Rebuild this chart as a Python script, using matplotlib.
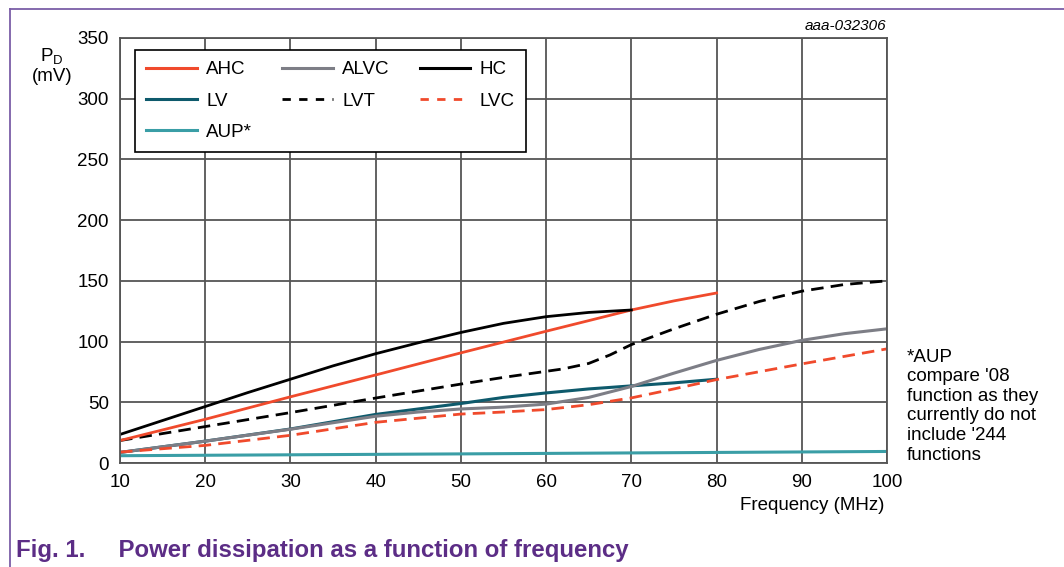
import numpy as np
from matplotlib import pyplot as plt
from matplotlib.lines import Line2D

# values (frequency in MHz, PD in mV)
hc_f = [10, 15, 20, 25, 30, 35, 40, 45, 50, 55, 60, 65, 70]
hc_p = [23.5, 35, 46.5, 58, 69, 80, 90, 99, 107.5, 115, 120.5, 124, 126]

ahc_f = [10, 20, 30, 40, 50, 60, 70, 75, 80]
ahc_p = [18.5, 36, 54.5, 72.5, 90.7, 108.5, 126, 133.5, 140]

lvt_f = [10, 20, 30, 40, 50, 55, 60, 62, 65, 67.5, 70, 75, 80, 85, 90, 95, 100]
lvt_p = [18.5, 30, 41.5, 53.5, 65, 70.5, 75.5, 77.5, 82, 89, 97.5, 110.5, 122.5, 133, 141.5, 147, 150]

alvc_f = [10, 20, 30, 40, 45, 50, 55, 60, 65, 70, 75, 80, 85, 90, 95, 100]
alvc_p = [8.7, 18, 27.8, 38.5, 42, 44.5, 46, 48.5, 54, 63, 74, 84.5, 93.5, 101, 106.5, 110.5]

lv_f = [10, 20, 30, 40, 50, 55, 60, 65, 70, 75, 80]
lv_p = [8.7, 18, 28, 40, 49, 54, 57.7, 61, 63.5, 66, 69]

lvc_f = [10, 20, 30, 40, 50, 55, 60, 65, 70, 75, 80, 90, 100]
lvc_p = [9, 14.5, 22.8, 33.5, 40.3, 42, 44, 48, 53.6, 61, 68.7, 81.6, 94]

aup_f = [10, 50, 100]
aup_p = [6, 7.5, 9.5]

x_ticks = [10, 20, 30, 40, 50, 60, 70, 80, 90, 100]
y_ticks = [0, 50, 100, 150, 200, 250, 300, 350]

red = '#f04a2c'
grey = '#7d7e86'
dteal = '#0e5a6c'
teal = '#3a9ea6'
purple = '#5c2d86'

plt.rcParams['font.family'] = ['Liberation Sans', 'DejaVu Sans']

fig = plt.figure(figsize=(10.64, 5.67), dpi=100)
ax = fig.add_axes([120 / 1064, 1 - 463 / 567, 767 / 1064, 425 / 567])

ax.plot(aup_f, aup_p, color=teal, lw=2.2)
ax.plot(lv_f, lv_p, color=dteal, lw=2.2)
ax.plot(alvc_f, alvc_p, color=grey, lw=2.2)
ax.plot(lvc_f, lvc_p, color=red, lw=2, dashes=(4.5, 2.6))
ax.plot(lvt_f, lvt_p, color='black', lw=2, dashes=(4.5, 2.6))
ax.plot(ahc_f, ahc_p, color=red, lw=2)
ax.plot(hc_f, hc_p, color='black', lw=2)

ax.set_xlim(10, 100)
ax.set_ylim(0, 350)
ax.set_xticks(x_ticks)
ax.set_yticks(y_ticks)
ax.tick_params(length=0, labelsize=13.5)
ax.tick_params(axis='x', pad=8)
ax.tick_params(axis='y', pad=8)
ax.grid(True, color='#555555', lw=1.3)
for s in ax.spines.values():
    s.set_color('#555555')
    s.set_linewidth(1.3)

handles = [
    Line2D([], [], color=red, lw=2.2),
    Line2D([], [], color=dteal, lw=2.2),
    Line2D([], [], color=teal, lw=2.2),
    Line2D([], [], color=grey, lw=2.2),
    Line2D([], [], color='black', lw=2, dashes=(3, 3)),
    Line2D([], [], color='black', lw=2.2),
    Line2D([], [], color=red, lw=2, dashes=(3, 3)),
]
labels = ['AHC', 'LV', 'AUP*', 'ALVC', 'LVT', 'HC', 'LVC']
leg = ax.legend(handles, labels, ncol=3, loc='upper left',
                bbox_to_anchor=(15 / 767, 1 - 12 / 425), borderaxespad=0,
                fontsize=13.5, frameon=True, fancybox=False, framealpha=1,
                edgecolor='black', handlelength=2.7, handletextpad=0.5,
                columnspacing=1.6, labelspacing=0.75, borderpad=0.6)
leg.get_frame().set_linewidth(1.2)

fig.text(52 / 1064, 1 - 66 / 567, 'P$_\\mathregular{D}$\n(mV)', ha='center',
         va='center', fontsize=13.5, linespacing=1.1)
fig.text(884 / 1064, 1 - 505 / 567, 'Frequency (MHz)', ha='right',
         va='center', fontsize=13.5)
fig.text(886 / 1064, 1 - 26 / 567, 'aaa-032306', ha='right', va='center',
         fontsize=11, style='italic')
fig.text(907 / 1064, 1 - 406 / 567,
         "*AUP\ncompare '08\nfunction as they\ncurrently do not\ninclude '244\nfunctions",
         ha='left', va='center', fontsize=13.5, linespacing=1.2)
fig.text(16 / 1064, 1 - 550 / 567,
         'Fig. 1.     Power dissipation as a function of frequency',
         ha='left', va='center', fontsize=17.3, weight='bold', color=purple)

# purple frame lines (left and top)
fig.add_artist(Line2D([10 / 1064, 10 / 1064], [0, 1 - 9 / 567],
                      color='#7b5ea7', lw=1.3, transform=fig.transFigure))
fig.add_artist(Line2D([10 / 1064, 1], [1 - 9 / 567, 1 - 9 / 567],
                      color='#7b5ea7', lw=1.3, transform=fig.transFigure))

fig.savefig('out.png', dpi=100)
